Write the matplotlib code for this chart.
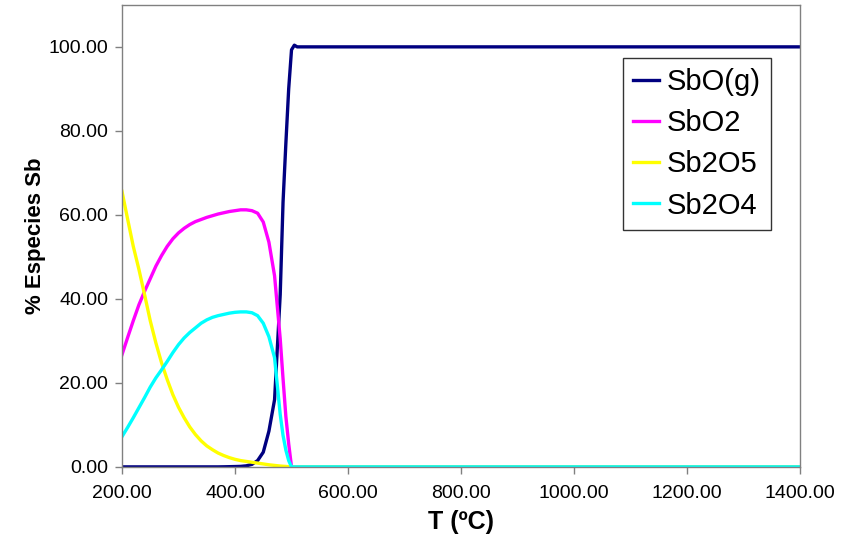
import numpy as np
import matplotlib
matplotlib.use('Agg')
import matplotlib.pyplot as plt

plt.rcParams['font.family'] = ['Liberation Sans', 'DejaVu Sans']

# temperatura (ºC)
T = [200, 210, 220, 230, 240, 250, 260, 270, 280, 290, 300, 310, 320, 330,
     340, 350, 360, 370, 380, 390, 400, 410, 420, 430, 440, 450, 460, 470,
     480, 485, 490, 495, 500, 505, 510,
     600, 700, 800, 900, 1000, 1100, 1200, 1300, 1400]

sbo_g = [0, 0, 0, 0, 0, 0, 0, 0, 0, 0, 0, 0, 0, 0,
         0, 0, 0, 0, 0.02, 0.05, 0.08, 0.12, 0.25, 0.6, 1.5, 3.5, 8.5, 16,
         41, 63, 77, 90, 99.3, 100.4, 100,
         100, 100, 100, 100, 100, 100, 100, 100, 100]
sbo2 = [26.7, 30.8, 34.8, 38.6, 41.8, 44.8, 47.8, 50.3, 52.5, 54.3, 55.7, 56.8, 57.7, 58.4,
        58.9, 59.4, 59.8, 60.2, 60.5, 60.8, 61.0, 61.2, 61.2, 61.0, 60.4, 58.3, 53.5, 45.5,
        30.5, 21, 12, 5.5, 0, 0, 0,
        0, 0, 0, 0, 0, 0, 0, 0, 0]
sb2o5 = [65.6, 59, 52.5, 47, 41, 34.8, 29.5, 24.8, 20.8, 17.2, 14.2, 11.7, 9.5, 7.7,
         6.2, 5.0, 4.1, 3.3, 2.7, 2.2, 1.8, 1.5, 1.3, 1.1, 0.9, 0.7, 0.5, 0.35,
         0.2, 0.15, 0.1, 0.05, 0, 0, 0,
         0, 0, 0, 0, 0, 0, 0, 0, 0]
sb2o4 = [7.2, 9.4, 11.7, 14.1, 16.5, 19, 21.2, 23.1, 25.1, 27.2, 29.1, 30.7, 32, 33.1,
         34.2, 35, 35.6, 36, 36.3, 36.6, 36.8, 36.9, 36.9, 36.7, 36, 34.2, 31, 26,
         12.5, 7.5, 4, 1.5, 0, 0, 0,
         0, 0, 0, 0, 0, 0, 0, 0, 0]

fig = plt.figure(figsize=(8.53, 5.41), dpi=100)
ax = fig.add_axes([0.143, 0.137, 0.795, 0.854])

ax.plot(T, sbo_g, color='#000080', lw=2.4, label='SbO(g)')
ax.plot(T, sbo2, color='#ff00ff', lw=2.4, label='SbO2')
ax.plot(T, sb2o5, color='#ffff00', lw=2.4, label='Sb2O5')
ax.plot(T, sb2o4, color='#00ffff', lw=2.4, label='Sb2O4')

ax.set_xlim(200, 1400)
ax.set_ylim(0, 110)
ax.set_xticks(np.arange(200, 1401, 200))
ax.set_yticks(np.arange(0, 101, 20))
ax.xaxis.set_major_formatter(matplotlib.ticker.FormatStrFormatter('%.2f'))
ax.yaxis.set_major_formatter(matplotlib.ticker.FormatStrFormatter('%.2f'))
ax.tick_params(direction='out', length=5, width=1, color='#808080',
               labelsize=14, pad=5)
ax.tick_params(axis='x', pad=8)
for s in ax.spines.values():
    s.set_color('#808080')
    s.set_linewidth(1)

ax.set_xlabel('T (ºC)', fontsize=18, fontweight='bold', labelpad=6)
ax.set_ylabel('% Especies Sb', fontsize=16, fontweight='bold', labelpad=2)

leg = ax.legend(loc='upper right', bbox_to_anchor=(0.957, 0.885), fontsize=21,
                frameon=True, fancybox=False, edgecolor='black',
                handlelength=0.9, handletextpad=0.25, borderpad=0.35,
                labelspacing=0.45, borderaxespad=0)
leg.get_frame().set_linewidth(1)

fig.savefig('out.png', dpi=100)
